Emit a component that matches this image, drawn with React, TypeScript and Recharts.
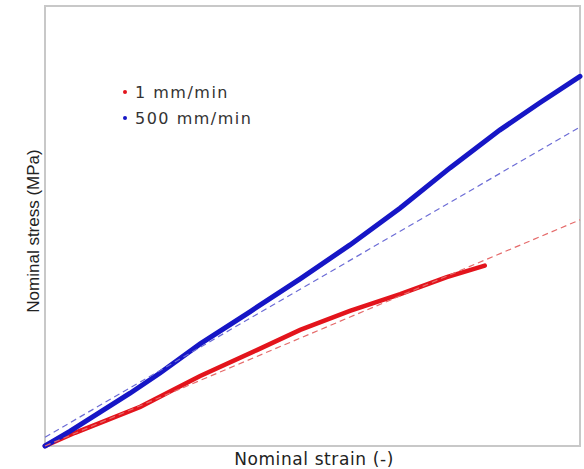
import React from 'react';
import { LineChart, Line, XAxis, YAxis, ReferenceArea, Label } from 'recharts';

// values (strain, stress in arbitrary units 0-100)
const strainSlow = [0, 5.6, 11.6, 17.8, 23.9, 29.0, 39.6, 47.7, 57.0, 66.4, 75.1, 82.2];
const stressSlow = [0, 3.0, 5.9, 8.9, 12.7, 15.9, 21.8, 26.4, 30.7, 34.5, 38.4, 41.0];

const strainFast = [0, 4.7, 10.3, 15.9, 21.5, 29.0, 38.3, 47.7, 57.0, 66.4, 75.7, 85.0, 92.5, 100];
const stressFast = [0, 3.4, 7.7, 12.0, 16.6, 23.2, 30.5, 38.0, 45.7, 54.1, 63.2, 71.8, 78.0, 84.0];

// linear fits (dashed)
const fitStrain = [0, 100];
const fitSlow = [0, 51.4];
const fitFast = [2, 72.5];

const seriesNames = ['1 mm/min', '500 mm/min'];
const seriesColors = ['#e3141c', '#1616c6'];

const zip = (xs: number[], ys: number[]) => xs.map((x, i) => ({ x, y: ys[i] }));

const slowData = zip(strainSlow, stressSlow);
const fastData = zip(strainFast, stressFast);
const slowFit = zip(fitStrain, fitSlow);
const fastFit = zip(fitStrain, fitFast);

const YLabel = ({ viewBox }: any) => {
  const cx = viewBox.x + 33;
  const cy = viewBox.y + viewBox.height / 2 + 5;
  return (
    <text
      x={cx}
      y={cy}
      transform={`rotate(-90 ${cx} ${cy})`}
      textAnchor="middle"
      dominantBaseline="central"
      fontFamily="'Liberation Sans', Arial, sans-serif"
      fontSize={17}
      fill="#222"
    >
      Nominal stress (MPa)
    </text>
  );
};

const XLabel = ({ viewBox }: any) => (
  <text
    x={viewBox.x + viewBox.width / 2 + 1.5}
    y={viewBox.y + 19}
    textAnchor="middle"
    fontFamily="'DejaVu Sans', Verdana, sans-serif"
    fontSize={17}
    letterSpacing={0.6}
    fill="#222"
  >
    Nominal strain (-)
  </text>
);

const LegendBox = () => (
  <div
    style={{
      position: 'absolute',
      left: 123,
      top: 79,
      fontFamily: "'DejaVu Sans', Verdana, sans-serif",
      fontSize: 16,
      color: '#333',
      letterSpacing: 1.5,
    }}
  >
    {seriesNames.map((name, i) => (
      <div key={name} style={{ display: 'flex', alignItems: 'center', height: 26 }}>
        <span style={{ width: 4, height: 4, borderRadius: 2, background: seriesColors[i], marginRight: 8 }} />
        {name}
      </div>
    ))}
  </div>
);

export default function App() {
  return (
    <div style={{ position: 'absolute', left: 0, top: 0, width: 584, height: 469, background: '#fff' }}>
      <LineChart width={584} height={469} margin={{ top: 6, right: 4, left: 0, bottom: 0 }}>
        <XAxis
          type="number"
          dataKey="x"
          domain={[0, 100]}
          height={23}
          tick={false}
          tickLine={false}
          axisLine={false}
        >
          <Label content={<XLabel />} />
        </XAxis>
        <YAxis
          type="number"
          dataKey="y"
          domain={[0, 100]}
          width={45}
          tick={false}
          tickLine={false}
          axisLine={false}
        >
          <Label content={<YLabel />} />
        </YAxis>
        <ReferenceArea x1={0} x2={100} y1={0} y2={100} fill="none" stroke="#c8c8c8" strokeWidth={2} ifOverflow="visible" />
        <Line
          data={slowData}
          dataKey="y"
          name={seriesNames[0]}
          type="linear"
          stroke={seriesColors[0]}
          strokeWidth={4.5}
          strokeLinecap="round"
          dot={false}
          isAnimationActive={false}
        />
        <Line
          data={fastData}
          dataKey="y"
          name={seriesNames[1]}
          type="linear"
          stroke={seriesColors[1]}
          strokeWidth={5}
          strokeLinecap="round"
          dot={false}
          isAnimationActive={false}
        />
        <Line
          data={slowFit}
          dataKey="y"
          name="fit 1"
          type="linear"
          stroke="#e56a6a"
          strokeWidth={1.2}
          strokeDasharray="6 4"
          dot={false}
          isAnimationActive={false}
        />
        <Line
          data={fastFit}
          dataKey="y"
          name="fit 500"
          type="linear"
          stroke="#6c6cd6"
          strokeWidth={1.2}
          strokeDasharray="6 4"
          dot={false}
          isAnimationActive={false}
        />
      </LineChart>
      <LegendBox />
    </div>
  );
}
